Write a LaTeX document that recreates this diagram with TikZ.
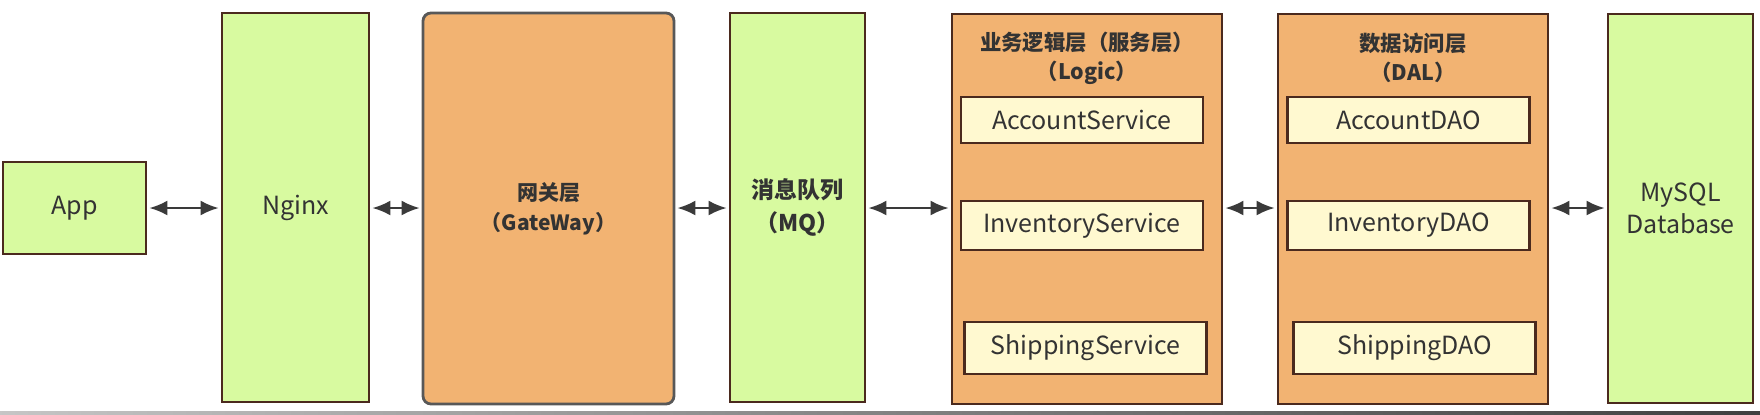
\documentclass[tikz,border=0pt]{standalone}
\usepackage{fontspec}
\setmainfont{Noto Sans CJK SC}
\usetikzlibrary{arrows.meta}

\definecolor{boxgreen}{RGB}{216,250,160}
\definecolor{boxorange}{RGB}{242,179,114}
\definecolor{itemyellow}{RGB}{255,249,208}
\definecolor{edgebrown}{RGB}{75,42,30}
\definecolor{edgegray}{RGB}{88,88,88}
\definecolor{linkgray}{RGB}{58,58,58}
\definecolor{textgray}{RGB}{51,51,51}

\tikzset{
  layerbox/.style={draw=edgebrown,line width=1.4pt,inner sep=0pt,align=center,
    text=textgray,font=\fontsize{12.5}{16}\selectfont},
  greenbox/.style={layerbox,fill=boxgreen},
  orangebox/.style={layerbox,fill=boxorange},
  itembox/.style={draw=edgebrown,line width=1.2pt,fill=itemyellow,inner sep=0pt,
    minimum width=121pt,text=textgray,font=\fontsize{12.5}{14}\selectfont},
  titletext/.style={align=center,text=textgray,font=\bfseries\fontsize{10.7}{14.5}\selectfont},
  link/.style={{Latex[length=9pt,width=7.5pt]}-{Latex[length=9pt,width=7.5pt]},
    draw=linkgray,line width=1.1pt,shorten <=1pt,shorten >=1pt}
}

\begin{document}
\begin{tikzpicture}[x=0.5pt,y=-0.5pt]
  \useasboundingbox (0,0) rectangle (1760,414);

  % outer layers
  \node[greenbox,minimum width=71.5pt,minimum height=46pt] (app) at (74.5,208) {App};
  \node[greenbox,minimum width=73.5pt,minimum height=194.5pt] (nginx) at (295.5,207.5) {Nginx};
  \node[orangebox,draw=edgegray,rounded corners=4pt,minimum width=125.5pt,minimum height=195.5pt,
    font=\bfseries\fontsize{10.5}{15}\selectfont] (gateway) at (548.5,208.5) {网关层\\（GateWay）};
  \node[greenbox,minimum width=67.5pt,minimum height=194.5pt,
    font=\bfseries\fontsize{11.5}{16.5}\selectfont] (mq) at (797.5,207.5) {消息队列\\（MQ）};
  \node[orangebox,minimum width=135pt,minimum height=195pt] (logic) at (1087,209) {};
  \node[orangebox,minimum width=135pt,minimum height=195pt] (dal) at (1413,209) {};
  \node[greenbox,minimum width=72.5pt,minimum height=194.5pt] (mysql) at (1680.5,208.5) {MySQL\\Database};

  % service layer
  \node[titletext] (logictitle) at (1087,58) {业务逻辑层（服务层）\\（Logic）};
  \node[itembox,minimum height=23pt] (accsvc) at (1082,120) {AccountService};
  \node[itembox,minimum height=24.5pt] (invsvc) at (1082,225.5) {InventoryService};
  \node[itembox,minimum height=26pt] (shipsvc) at (1085.5,348) {ShippingService};

  % data access layer
  \node[titletext] (daltitle) at (1413,58) {数据访问层\\（DAL）};
  \node[itembox,minimum height=23pt] (accdao) at (1408.5,120) {AccountDAO};
  \node[itembox,minimum height=24.5pt] (invdao) at (1408.5,225.5) {InventoryDAO};
  \node[itembox,minimum height=26pt] (shipdao) at (1414.5,348) {ShippingDAO};

  % links
  \draw[link] (app.east) -- (app.east -| nginx.west);
  \draw[link] (app.east -| nginx.east) -- (app.east -| gateway.west);
  \draw[link] (app.east -| gateway.east) -- (app.east -| mq.west);
  \draw[link] (app.east -| mq.east) -- (app.east -| logic.west);
  \draw[link] (app.east -| logic.east) -- (app.east -| dal.west);
  \draw[link] (app.east -| dal.east) -- (app.east -| mysql.west);

  % screenshot edge
  \shade[left color=gray!45,right color=black!75] (0,411) rectangle (1760,414);
\end{tikzpicture}
\end{document}
